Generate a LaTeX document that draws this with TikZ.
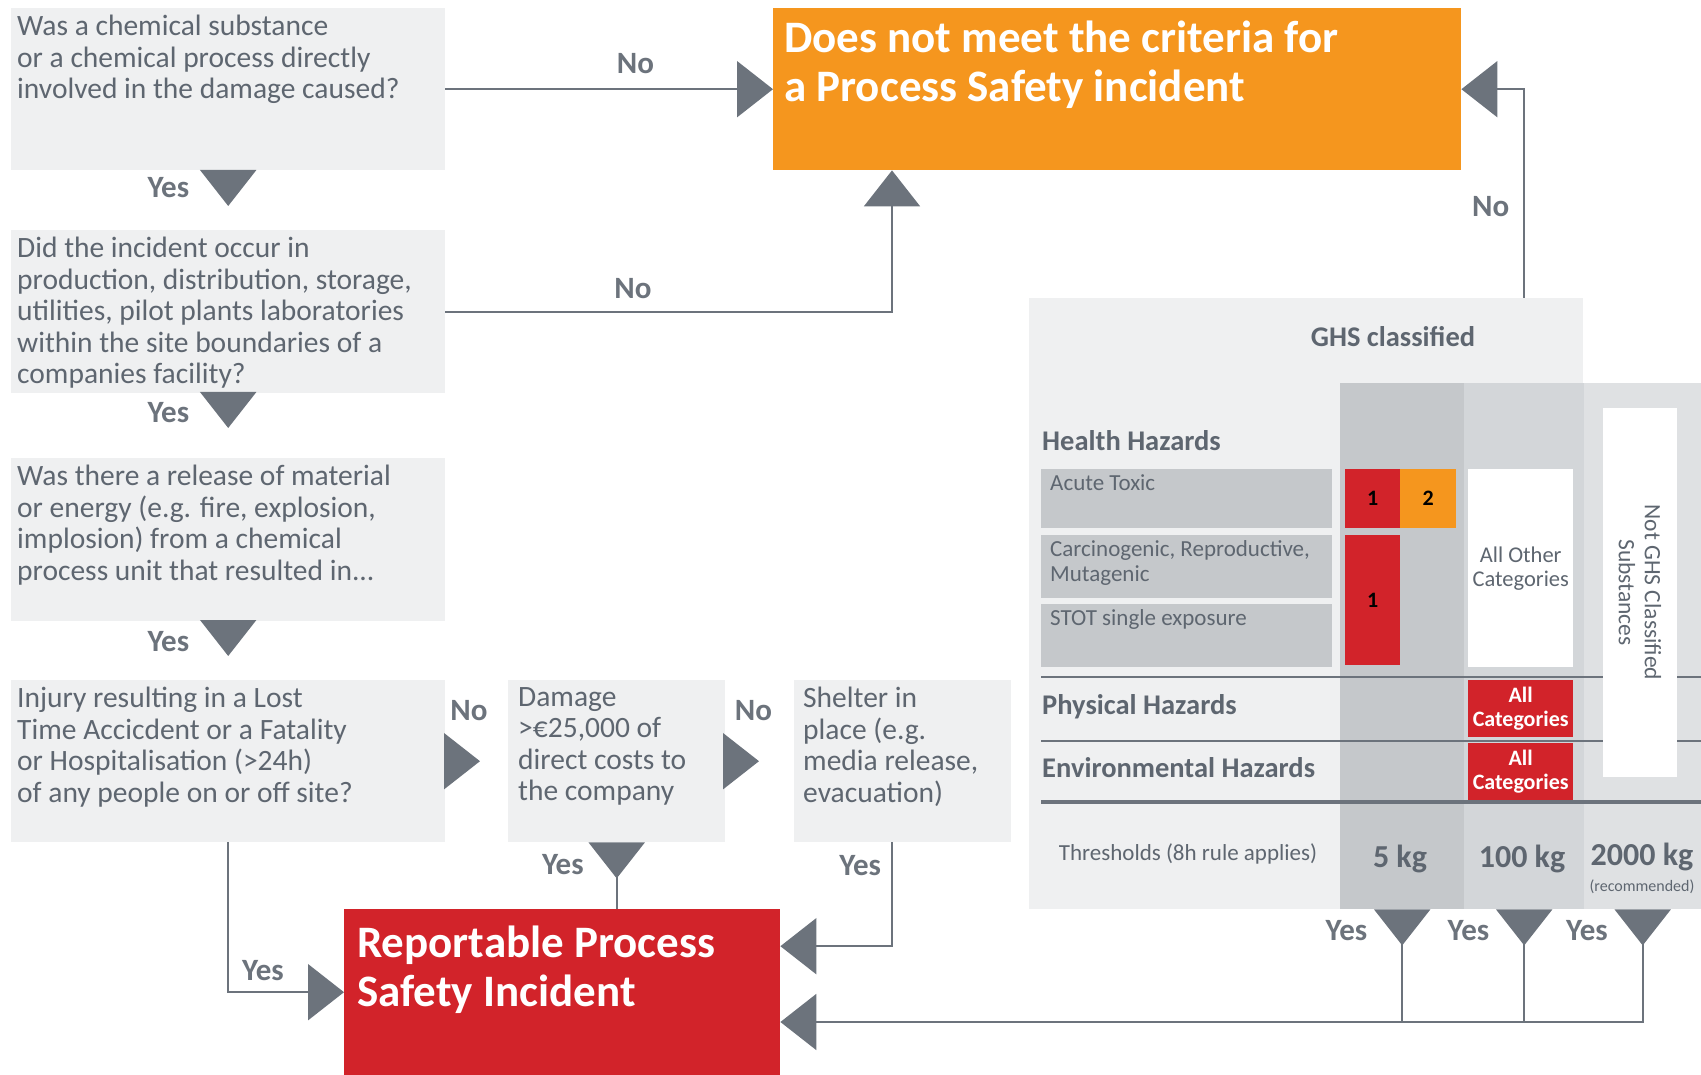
\documentclass[tikz,border=0pt]{standalone}
\usepackage{fontspec}
\setmainfont{Carlito}
\usetikzlibrary{arrows.meta,positioning}

\definecolor{boxgrey}{HTML}{EFF0F1}
\definecolor{linegrey}{HTML}{6C737C}
\definecolor{txtgrey}{HTML}{5E6670}
\definecolor{psorange}{HTML}{F5961E}
\definecolor{psred}{HTML}{D2232A}
\definecolor{colA}{HTML}{C5C8CB}
\definecolor{colB}{HTML}{D3D6D9}
\definecolor{colC}{HTML}{DFE1E3}

\newcommand{\toptext}[3]{\parbox[t][#2][t]{#1}{\raggedright #3}}
\newcommand{\fsize}[2]{\fontsize{#1}{#2}\selectfont}

\tikzstyle{pse chart}=[x=1pt, y=-1pt]
\tikzstyle{wire}=[draw=linegrey, line width=2pt]
\tikzstyle{flow}=[wire, -{Triangle[length=36pt,width=56pt]}]
\tikzstyle{drop}=[wire, {Triangle[reversed,length=36pt,width=56pt]}-]
\tikzstyle{dropflow}=[wire, {Triangle[reversed,length=36pt,width=56pt]}-{Triangle[length=36pt,width=56pt]}]
\tikzstyle{question}=[fill=boxgrey, anchor=north west, inner xsep=6pt, inner ysep=7pt,
    text=txtgrey, font=\fsize{29.5}{31.5}]
\tikzstyle{outcome}=[anchor=north west, text=white, font=\bfseries\fsize{45}{49}]
\tikzstyle{answer}=[text=linegrey, inner sep=0pt, font=\bfseries\fsize{31}{32}]
\tikzstyle{col}=[anchor=north west, inner sep=0pt, minimum height=526pt]
\tikzstyle{hazard}=[anchor=west, inner sep=0pt, text=txtgrey, font=\bfseries\fsize{28.5}{30}]
\tikzstyle{hazrow}=[fill=colA, anchor=north west, inner xsep=9pt, inner ysep=5pt,
    text=txtgrey, font=\fsize{23}{25}]
\tikzstyle{cell}=[anchor=north west, inner sep=0pt, align=center, font=\bfseries\fsize{22}{24}]
\tikzstyle{kg}=[inner sep=0pt, text=txtgrey, font=\bfseries\fsize{32}{34}]

\begin{document}
\begin{tikzpicture}[pse chart]
    \useasboundingbox (0,0) rectangle (1701,1075);

    \node[question] (q1) at (11,8) {\toptext{422pt}{148pt}{Was a chemical substance\\or a chemical process directly\\involved in the damage caused?}};
    \node[question] (q2) at (11,230) {\toptext{422pt}{149pt}{Did the incident occur in\\production, distribution, storage,\\utilities, pilot plants laboratories\\within the site boundaries of a\\companies facility?}};
    \node[question] (q3) at (11,458) {\toptext{422pt}{149pt}{Was there a release of material\\or energy (e.g. fire, explosion,\\implosion) from a chemical\\process unit that resulted in...}};
    \node[question] (q4) at (11,680) {\toptext{422pt}{148pt}{Injury resulting in a Lost\\Time Accicdent or a Fatality\\or Hospitalisation (>24h)\\of any people on or off site?}};
    \node[question, inner xsep=10pt] (q5) at (508,680) {\toptext{197pt}{148pt}{Damage\\>€25,000 of\\direct costs to\\the company}};
    \node[question, inner xsep=9pt] (q6) at (794,680) {\toptext{199pt}{148pt}{Shelter in\\place (e.g.\\media release,\\evacuation)}};

    \node[outcome, fill=psorange, inner xsep=11pt, inner ysep=13pt] (notmet) at (773,8) {\toptext{666pt}{136pt}{Does not meet the criteria for\\a Process Safety incident}};
    \node[outcome, fill=psred, inner xsep=13pt, inner ysep=17pt] (rpsi) at (344,909) {\toptext{410pt}{132pt}{Reportable Process\\Safety Incident}};

    % GHS table
    \node[fill=boxgrey, anchor=north west, inner sep=0pt, minimum width=554pt, minimum height=611pt] (ghs) at (1029,298) {};
    \node[col, fill=colA, minimum width=124pt] (c5) at (1340,383) {};
    \node[col, fill=colB, minimum width=120pt] (c100) at (1464,383) {};
    \node[col, fill=colC, minimum width=117pt] (c2000) at (1584,383) {};

    \node[hazard, anchor=center] (ghstitle) at (1393,337) {GHS classified};
    \node[hazard] (health) at (1042,441) {Health Hazards};
    \node[hazrow] (acute) at (1041,469) {\toptext{273pt}{49pt}{Acute Toxic}};
    \node[hazrow] (cmr) at (1041,535) {\toptext{273pt}{53pt}{Carcinogenic, Reproductive,\\Mutagenic}};
    \node[hazrow] (stot) at (1041,604) {\toptext{273pt}{53pt}{STOT single exposure}};
    \node[cell, fill=psred, minimum width=55pt, minimum height=59pt] (acute1) at (1345,469) {1};
    \node[cell, fill=psorange, minimum width=56pt, minimum height=59pt] (acute2) at (1400,469) {2};
    \node[cell, fill=psred, minimum width=55pt, minimum height=130pt] (cmr1) at (1345,535) {1};
    \node[cell, fill=white, text=txtgrey, font=\fsize{22.5}{24}, minimum width=105pt, minimum height=198pt] (other) at (1468,469) {All Other\\Categories};

    \draw[linegrey, line width=2pt] (1041,677) -- (1701,677);
    \draw[linegrey, line width=2pt] (1041,741) -- (1701,741);
    \draw[linegrey, line width=4pt] (1041,802) -- (1701,802);

    \node[hazard] (phys) at (1042,707) {Physical Hazards};
    \node[hazard] (env) at (1042,768) {Environmental Hazards};
    \node[cell, fill=psred, text=white, minimum width=105pt, minimum height=57pt] (physall) at (1468,680) {All\\Categories};
    \node[cell, fill=psred, text=white, minimum width=105pt, minimum height=57pt] (envall) at (1468,743) {All\\Categories};
    \node[cell, fill=white, text=txtgrey, font=\fsize{23.5}{26}, rotate=-90, anchor=center, minimum width=369pt, minimum height=74pt] (notghs) at (1640,592.5) {Not GHS Classified\\Substances};

    \node[hazard, anchor=center, font=\fsize{23}{24}] (thr) at (1188,854) {Thresholds (8h rule applies)};
    \node[kg] (kg5) at (1400,859) {5 kg};
    \node[kg] (kg100) at (1522,859) {100 kg};
    \node[kg] (kg2000) at (1642,857) {2000 kg};
    \node[kg, font=\fsize{16}{17}] (rec) at (1642,887) {(recommended)};

    % connectors
    \draw[flow, shorten >=24pt] (q1) -- node[answer, pos=.28, left=38pt] {Yes} (q2);
    \draw[flow, shorten >=30pt] (q2) -- node[answer, pos=.29, left=38pt] {Yes} (q3);
    \draw[flow, shorten >=24pt] (q3) -- node[answer, pos=.34, left=38pt] {Yes} (q4);
    \draw[flow] (q1) -- node[answer, pos=.58, above=14pt] {No} (notmet);
    \draw[flow] (q2.east) -| node[answer, pos=.21, above=12pt] {No} (notmet.south -| 892,0);
    \draw[flow, shorten >=28pt] (q4) -- node[answer, pos=.375, above=39pt] {No} (q5);
    \draw[flow, shorten >=35pt] (q5) -- node[answer, pos=.41, above=39pt] {No} (q6);

    \draw[flow] (q4.south) |- node[answer, pos=.5, above right=10pt and 13pt] {Yes} (rpsi.west);
    \draw[drop] (q5.south) -- node[answer, pos=.34, left=32pt] {Yes} (q5.south |- rpsi.north);
    \coordinate (q6out) at (q6.south -| 892,0);
    \draw[flow] (q6out) |- node[answer, pos=.11, left=10pt] {Yes} ([yshift=46pt]rpsi.east);

    \draw[flow] (c100.north |- ghs.north) |- node[answer, pos=.22, left=14pt] {No} (notmet.east);

    \coordinate (join) at (1642,1022);
    \draw[drop] (c5.south) -- node[answer, pos=.19, left=34pt] {Yes} (c5.south |- join);
    \draw[drop] (c100.south) -- node[answer, pos=.19, left=34pt] {Yes} (c100.south |- join);
    \draw[dropflow] (c2000.south) |- node[answer, pos=.093, left=34pt] {Yes} (rpsi.east |- join);
\end{tikzpicture}
\end{document}
